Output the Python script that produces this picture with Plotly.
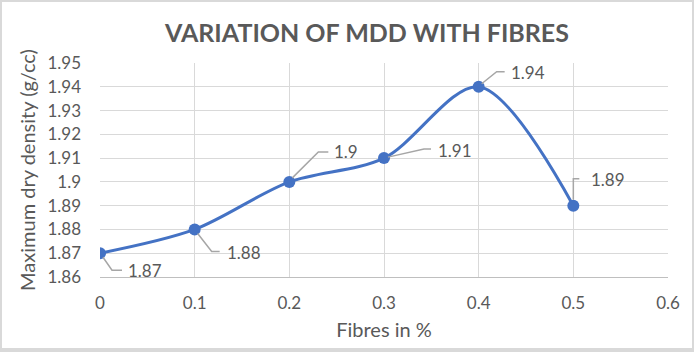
import plotly.graph_objects as go

# ---- data ----
fibres = [0, 0.1, 0.2, 0.3, 0.4, 0.5]
mdd = [1.87, 1.88, 1.90, 1.91, 1.94, 1.89]
labels = ["1.87", "1.88", "1.9", "1.91", "1.94", "1.89"]

# ---- styling (label leader offsets in pixels, up = positive) ----
leader_paths = [
    "M 3,-4 L 12,-17 L 22,-17",
    "M 3,-4 L 17,-22 L 25,-22",
    "M 3,4 L 29,30 L 39,30",
    "M 4,1 L 40,9 L 47,9",
    "M 3,3 L 18,15 L 26,15",
    "M 0,6 L 0,27 L 6,27",
]
label_shift = [(26, -17), (30, -23), (43, 30), (52, 8), (30, 14), (16, 26)]

W, H = 694, 352
ML, MR, MT, MB = 100, 26, 63, 75
PW, PH = W - ML - MR, H - MT - MB

def px(x):
    return (x - ML) / PW

def py(y):
    return 1 - (y - MT) / PH

BLUE = "#4472C4"
TXT = "#595959"
FONT = "Lato, 'Open Sans', sans-serif"

fig = go.Figure()
fig.add_trace(go.Scatter(
    x=fibres, y=mdd, mode="lines+markers",
    line=dict(color=BLUE, width=3, shape="spline", smoothing=0.9),
    marker=dict(color=BLUE, size=12),
    hoverinfo="x+y", showlegend=False,
))

shapes = [
    dict(type="rect", xref="paper", yref="paper",
         x0=px(2), x1=px(692), y0=py(348), y1=py(2),
         fillcolor="white", line=dict(width=0), layer="below"),
]
annotations = []
for xv, yv, lab, path, (dx, dy) in zip(fibres, mdd, labels, leader_paths, label_shift):
    shapes.append(dict(
        type="path", xref="x", yref="y", xsizemode="pixel", ysizemode="pixel",
        xanchor=xv, yanchor=yv, path=path,
        line=dict(color="#a6a6a6", width=1.5),
    ))
    annotations.append(dict(
        x=xv, y=yv, xref="x", yref="y", text=lab, showarrow=False,
        xanchor="left", yanchor="middle", xshift=dx, yshift=dy,
        font=dict(family=FONT, size=17, color=TXT),
    ))

annotations.append(dict(
    x=px(366), y=py(32), xref="paper", yref="paper",
    text="<b>VARIATION OF MDD WITH FIBRES</b>", showarrow=False,
    xanchor="center", yanchor="middle",
    font=dict(family=FONT, size=25, color=TXT),
))

fig.update_layout(
    width=W, height=H,
    margin=dict(l=ML, r=MR, t=MT, b=MB),
    paper_bgcolor="#d9d9d9", plot_bgcolor="white",
    shapes=shapes, annotations=annotations,
    font=dict(family=FONT, color=TXT),
    xaxis=dict(
        range=[0, 0.6], dtick=0.1, tick0=0,
        showgrid=True, gridcolor="#d9d9d9", gridwidth=1,
        zeroline=False, showline=True, linecolor="#bfbfbf", linewidth=1,
        ticks="", tickfont=dict(size=17, color=TXT), ticklabelstandoff=11,
        title=dict(text="Fibres in %", font=dict(size=20, color=TXT), standoff=10),
    ),
    yaxis=dict(
        range=[1.86, 1.95], dtick=0.01, tick0=1.86,
        showgrid=True, gridcolor="#d9d9d9", gridwidth=1,
        zeroline=False, showline=False,
        ticks="", tickfont=dict(size=17, color=TXT), ticklabelstandoff=18,
        tickformat="~g",
        title=dict(text="Maximum dry density (g/cc)", font=dict(size=20, color=TXT), standoff=6),
    ),
)

fig.write_html("out.html")
